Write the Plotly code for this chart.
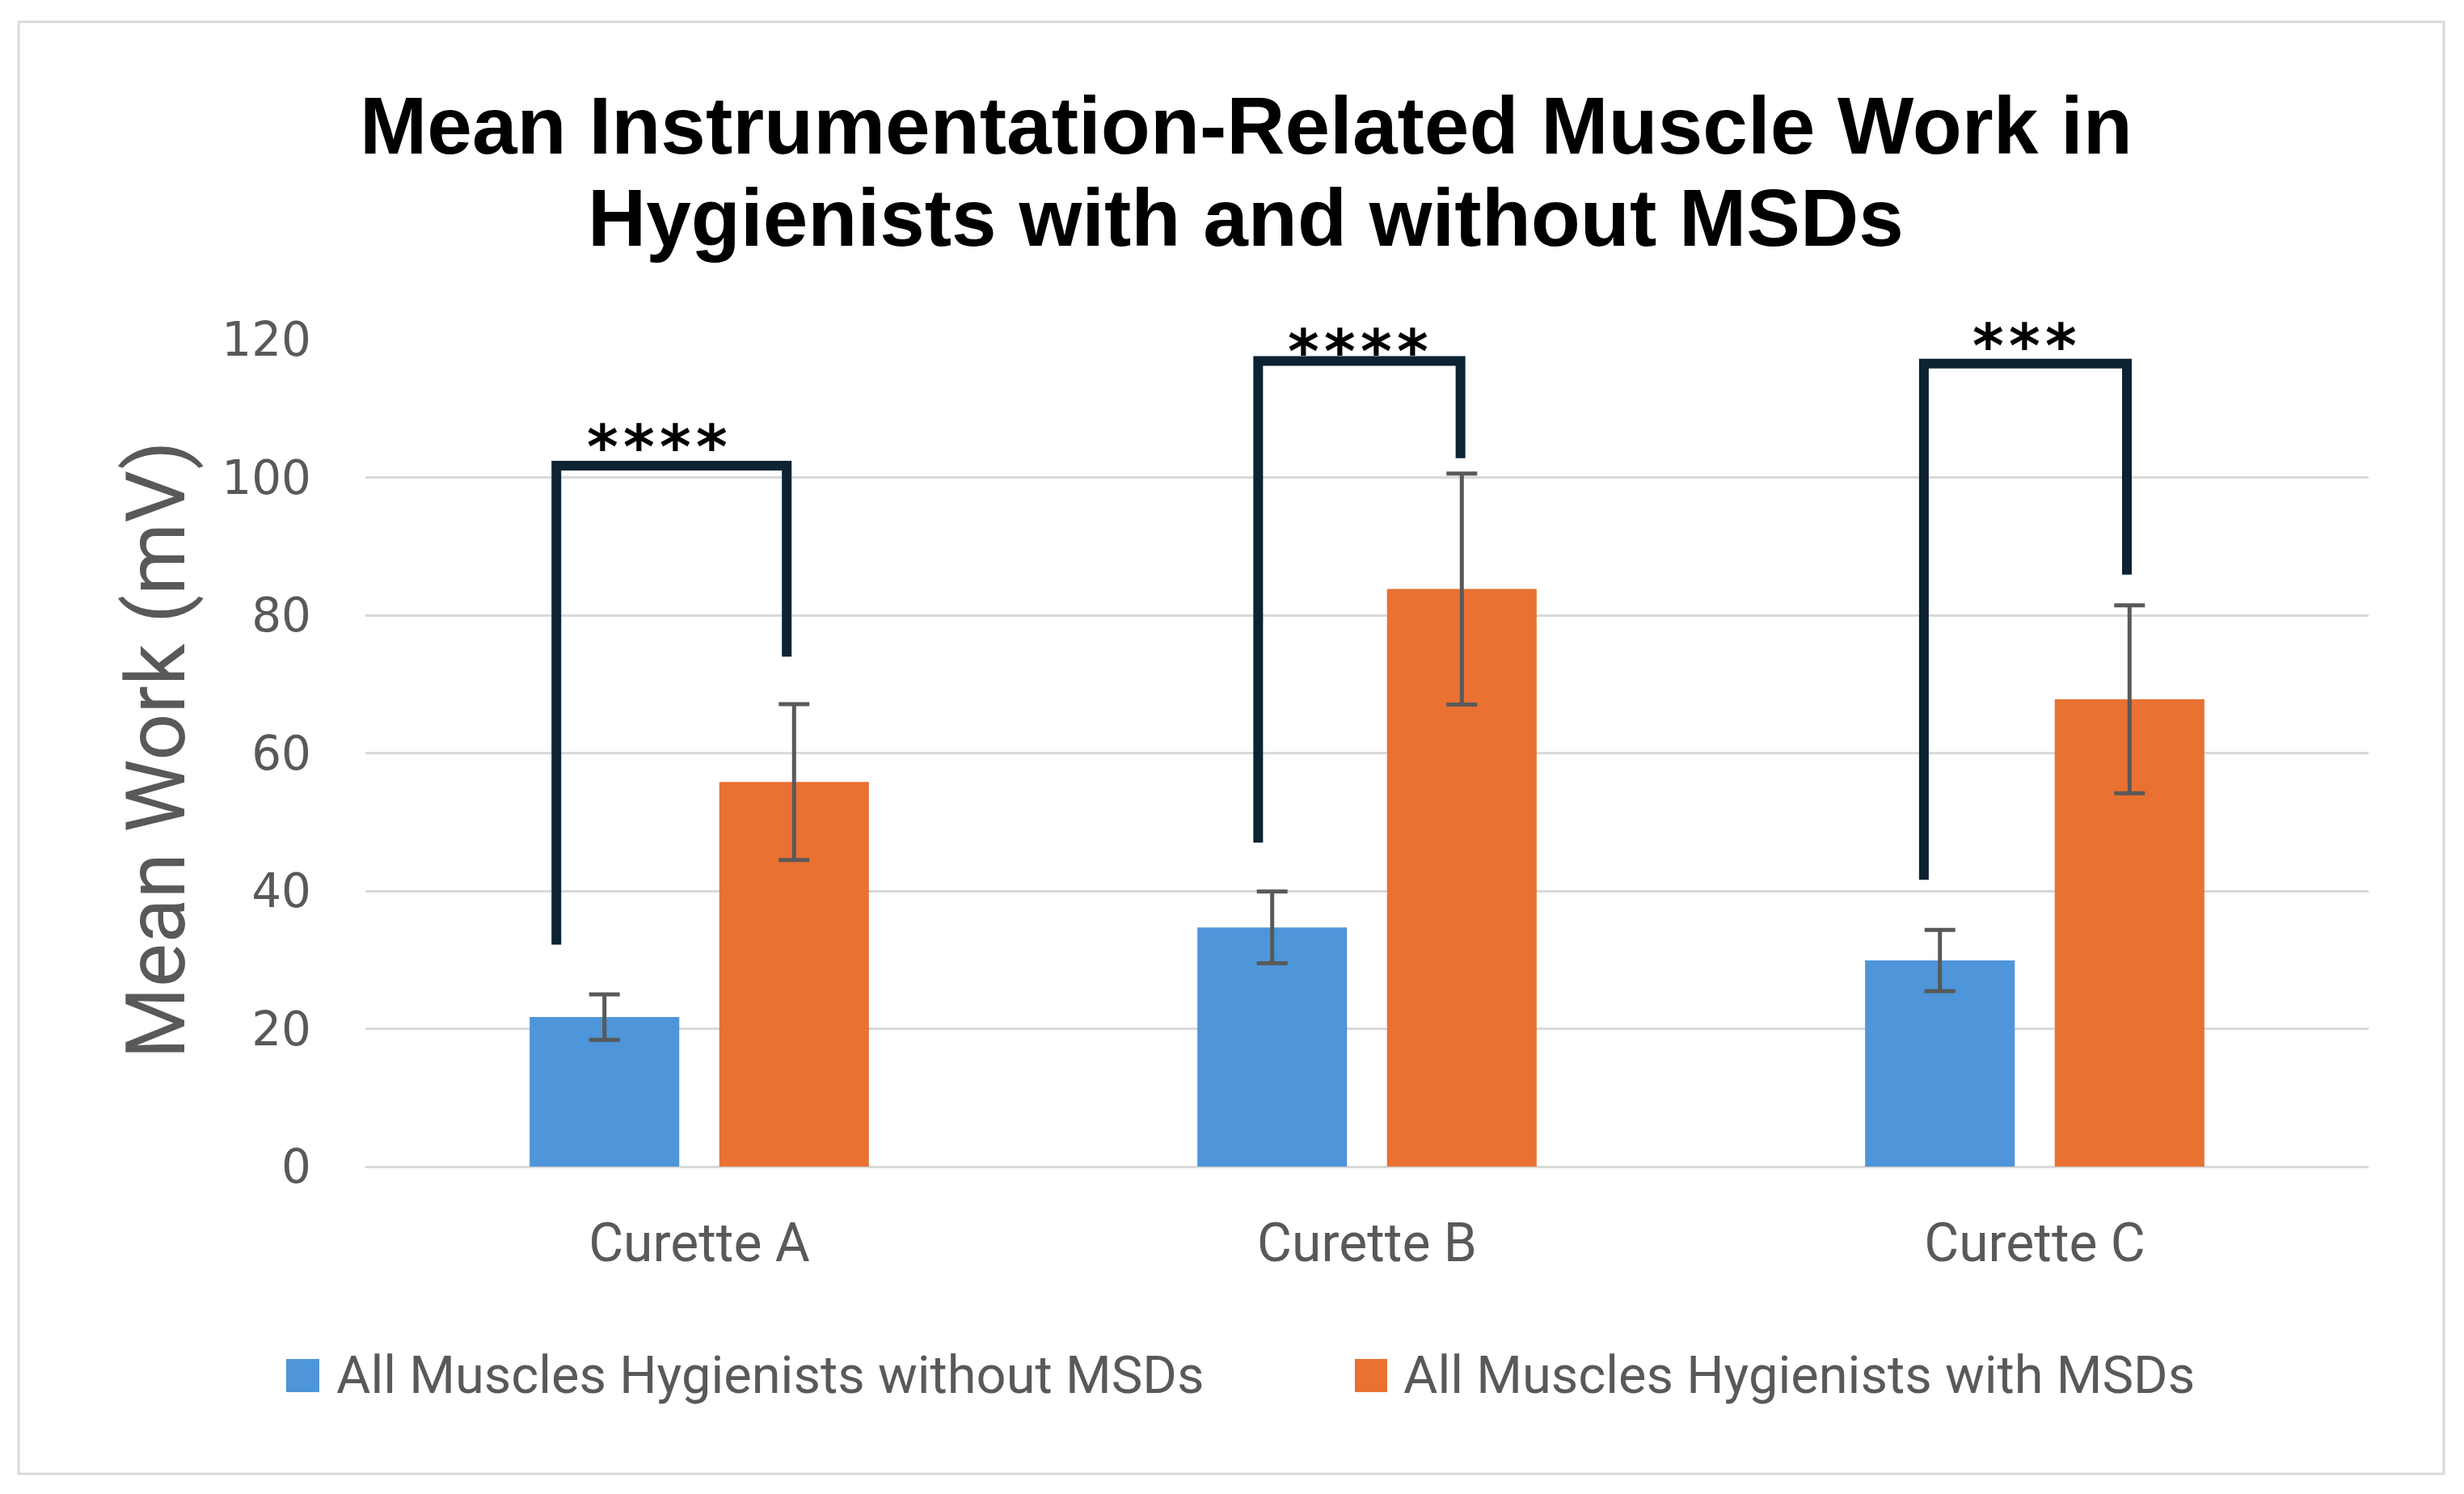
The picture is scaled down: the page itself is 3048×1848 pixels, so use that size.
import plotly.graph_objects as go

# ---------------- data ----------------
categories = ["Curette A", "Curette B", "Curette C"]
series_names = ["All Muscles Hygienists without MSDs", "All Muscles Hygienists with MSDs"]
without_msd = [21.7, 34.7, 29.9]
without_msd_err = [3.3, 5.2, 4.45]
with_msd = [55.8, 83.8, 67.8]
with_msd_err = [11.3, 16.75, 13.65]
y_ticks = [0, 20, 40, 60, 80, 100, 120]
y_range = [0, 120]

# significance brackets (values in data units)
bracket_left_y = [32.2, 47.0, 41.6]
bracket_top_y = [101.7, 116.9, 116.5]
bracket_right_y = [74.0, 102.8, 85.9]
bracket_left_dx = [-0.214, -0.163, -0.166]
bracket_right_dx = [0.131, 0.140, 0.138]
sig_labels = ["****", "****", "***"]
sig_y = [106.4, 120.2, 121.0]
sig_dx = [-0.063, -0.013, -0.015]

# ---------------- styling ----------------
OFF = 8  # default page body margin
W, H = 3048 - OFF, 1848 - OFF
L, R, T, B = 452, 2930, 420, 1443  # plot area in page pixels
BLUE = "#4e95d9"
ORANGE = "#e97132"
GRAY_TXT = "#595959"
GRID = "#d9d9d9"
NAVY = "#0b2333"


def px_x(px):
    return (px - L) / (R - L)


def px_y(py):
    return (B - py) / (B - T)


def data_to_paper_y(v):
    return (v - y_range[0]) / (y_range[1] - y_range[0])


xs = list(range(len(categories)))

fig = go.Figure()
fig.add_trace(go.Bar(
    x=xs, y=without_msd, name=series_names[0], marker_color=BLUE,
    marker_line_width=0, showlegend=False,
    error_y=dict(type="data", array=without_msd_err, color=GRAY_TXT, thickness=5, width=19),
))
fig.add_trace(go.Bar(
    x=xs, y=with_msd, name=series_names[1], marker_color=ORANGE,
    marker_line_width=0, showlegend=False,
    error_y=dict(type="data", array=with_msd_err, color=GRAY_TXT, thickness=5, width=19),
))

shapes = []
annotations = []

# brackets
for i in xs:
    x0 = i + bracket_left_dx[i]
    x1 = i + bracket_right_dx[i]
    path = (f"M {x0},{bracket_left_y[i]} L {x0},{bracket_top_y[i]} "
            f"L {x1},{bracket_top_y[i]} L {x1},{bracket_right_y[i]}")
    shapes.append(dict(type="path", path=path, xref="x", yref="y",
                       line=dict(color=NAVY, width=12), layer="above"))
    n = len(sig_labels[i])
    for k in range(n):
        annotations.append(dict(
            x=i + sig_dx[i], y=data_to_paper_y(sig_y[i]), xref="x", yref="paper",
            text="<b>*</b>", showarrow=False, xanchor="center", yanchor="middle",
            xshift=(k - (n - 1) / 2) * 45, yshift=-17,
            font=dict(family="DejaVu Sans", size=74, color="#000000"),
        ))

# outer border
shapes.append(dict(type="rect", xref="paper", yref="paper",
                   x0=px_x(23), x1=px_x(3023), y0=px_y(1823), y1=px_y(27),
                   line=dict(color=GRID, width=3), fillcolor="rgba(0,0,0,0)", layer="below"))

# title lines
title_lines = ["Mean Instrumentation-Related Muscle Work in", "Hygienists with and without MSDs"]
for line, yc in zip(title_lines, [155, 269]):
    annotations.append(dict(
        x=px_x(1541), y=px_y(yc), xref="paper", yref="paper", text=f"<b>{line}</b>",
        showarrow=False, xanchor="center", yanchor="middle",
        font=dict(family="Liberation Sans", size=100, color="#000000"),
    ))

# y axis title
annotations.append(dict(
    x=px_x(193), y=px_y(928), xref="paper", yref="paper", text="Mean Work (mV)",
    showarrow=False, textangle=-90, xanchor="center", yanchor="middle",
    font=dict(family="Roboto", size=102, color=GRAY_TXT),
))

# manual legend
legend_items = [
    (series_names[0], BLUE, 354, 395, 414),
    (series_names[1], ORANGE, 1676, 1716, 1734),
]
for name, col, sx0, sx1, tx in legend_items:
    shapes.append(dict(type="rect", xref="paper", yref="paper",
                       x0=px_x(sx0), x1=px_x(sx1), y0=px_y(1722), y1=px_y(1681),
                       fillcolor=col, line=dict(width=0)))
    annotations.append(dict(
        x=px_x(tx), y=px_y(1701), xref="paper", yref="paper", text=name,
        showarrow=False, xanchor="left", yanchor="middle",
        font=dict(family="Roboto", size=65, color=GRAY_TXT),
    ))

fig.update_layout(
    width=W, height=H,
    margin=dict(l=L - OFF, r=(W + OFF) - R, t=T - OFF, b=(H + OFF) - B, pad=0),
    paper_bgcolor="white", plot_bgcolor="white",
    barmode="group", bargap=0.432, bargroupgap=0.211,
    showlegend=False,
    shapes=shapes, annotations=annotations,
    xaxis=dict(
        range=[-0.5, len(categories) - 0.5], tickmode="array", tickvals=xs, ticktext=categories,
        showgrid=False, zeroline=False, showline=False, ticks="",
        tickfont=dict(family="Roboto", size=66, color=GRAY_TXT), ticklabelstandoff=50,
    ),
    yaxis=dict(
        range=y_range, tickmode="array", tickvals=y_ticks,
        showgrid=True, gridcolor=GRID, gridwidth=3,
        zeroline=True, zerolinecolor=GRID, zerolinewidth=3, showline=False, ticks="",
        tickfont=dict(family="DejaVu Sans", size=58, color=GRAY_TXT), ticklabelstandoff=66,
    ),
)

fig.write_html("out.html")
